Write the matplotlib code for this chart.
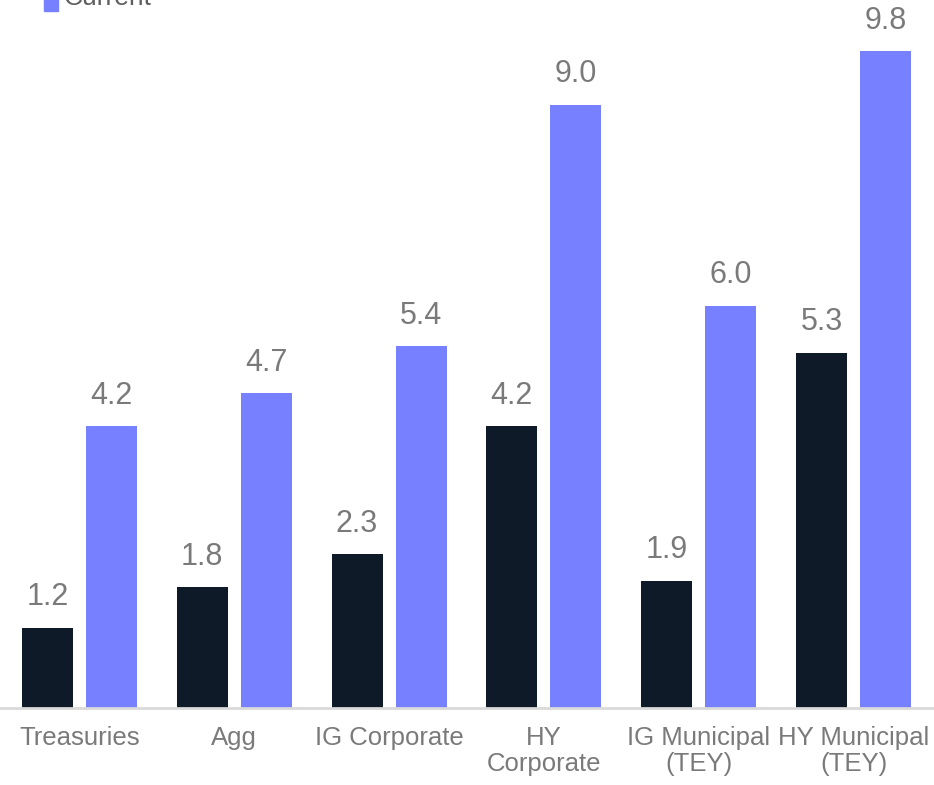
import numpy as np
import matplotlib.pyplot as plt
from matplotlib.patches import Rectangle

plt.rcParams['font.family'] = ['Liberation Sans', 'DejaVu Sans']

# data
categories = ["Treasuries", "Agg", "IG Corporate", "HY\nCorporate",
              "IG Municipal\n(TEY)", "HY Municipal\n(TEY)"]
previous = [1.2, 1.8, 2.3, 4.2, 1.9, 5.3]
current = [4.2, 4.7, 5.4, 9.0, 6.0, 9.8]

dark = '#0e1a28'
blue = '#7780ff'
label_color = '#7a7a7a'

fig = plt.figure(figsize=(9.34, 7.85), dpi=100)
ax = fig.add_axes([0, 77 / 785, 1, 708 / 785])

x = np.arange(len(categories))
w = 0.33
off = 0.207
b1 = ax.bar(x - off, previous, w, color=dark)
b2 = ax.bar(x + off, current, w, color=blue)

for bars, vals in [(b1, previous), (b2, current)]:
    for rect, v in zip(bars, vals):
        ax.annotate(f"{v:.1f}", (rect.get_x() + rect.get_width() / 2, v),
                    xytext=(0, 11), textcoords='offset points',
                    ha='center', va='bottom', fontsize=22, color=label_color)

ax.set_xlim(-79.5 / 154.8, (934 - 79.5) / 154.8)
ax.set_ylim(0, 708 / 67.04)
ax.set_xticks(x)
ax.set_xticklabels(categories, fontsize=18.5, color=label_color, linespacing=1.12)
ax.tick_params(axis='x', length=0, pad=13)
ax.set_yticks([])
for s in ['top', 'right', 'left']:
    ax.spines[s].set_visible(False)
ax.spines['bottom'].set_color('#d9d9d9')
ax.spines['bottom'].set_linewidth(2)

# legend, cut off at the top edge as in the original
fig.patches.append(Rectangle((44 / 934, 1 - 11 / 785), 14 / 934, 14 / 785,
                             transform=fig.transFigure, color=blue))
fig.text(64 / 934, 1 - 5 / 785, "Current", fontsize=19, color='#5f5f5f',
         ha='left', va='baseline')

fig.savefig('out.png', dpi=100)
